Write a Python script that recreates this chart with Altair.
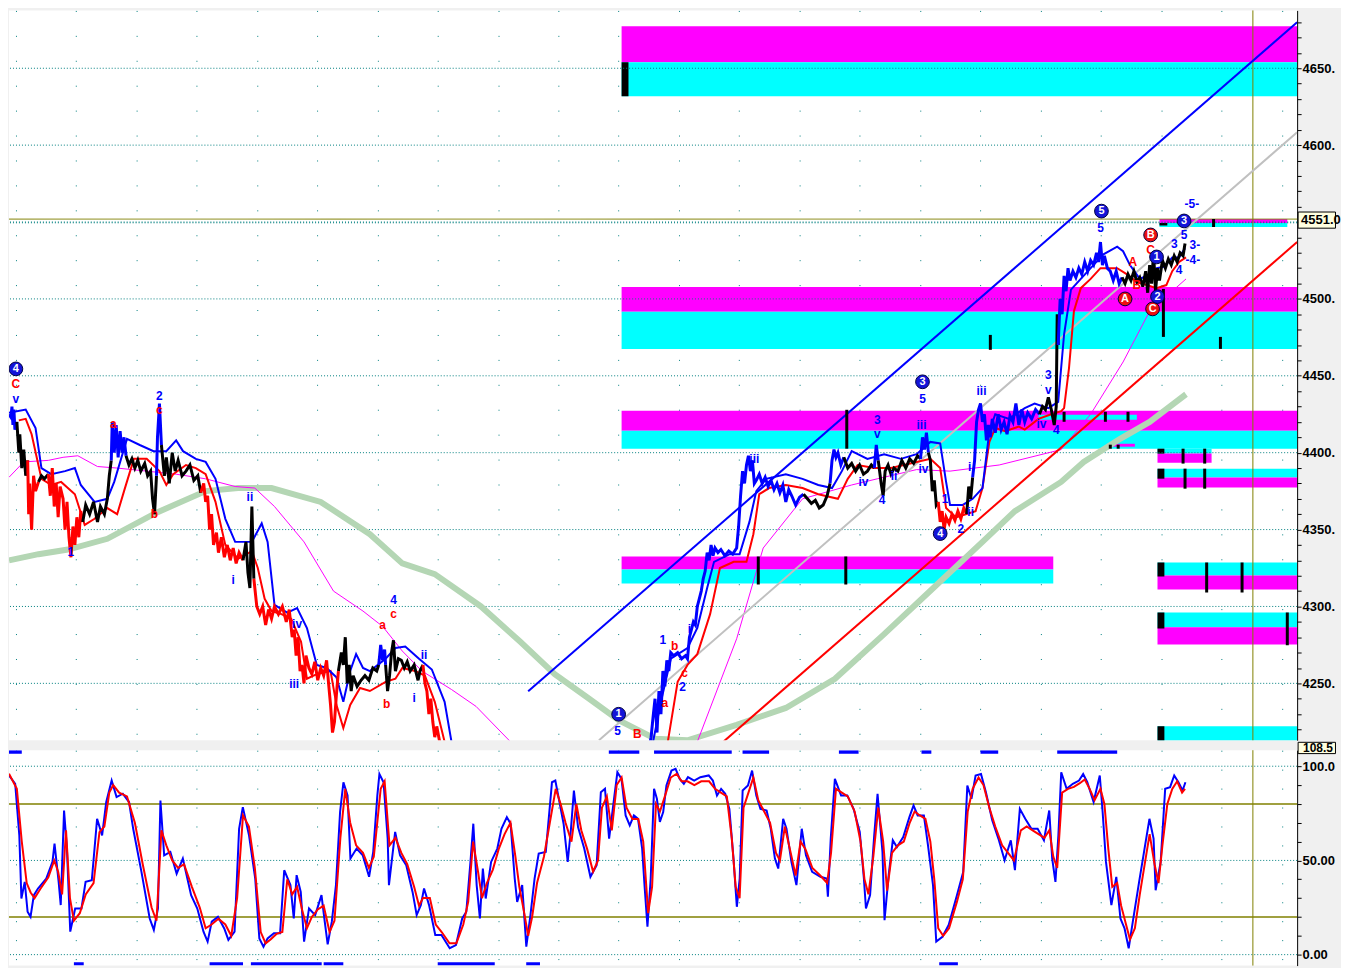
import altair as alt
import pandas as pd

# ---------------- data ----------------
X_DOMAIN = [0, 1310]
PRICE_DOMAIN = [4213.0, 4687.6]
OSC_DOMAIN = [-5.8, 108.5]

COLORS = {"blue": "#0000ff", "red": "#ff0000", "black": "#000000",
          "m": "#ff00ff", "c": "#00ffff", "k": "#000000"}

price_segments = [
    ("blue", [(0, 4425), (2, 4423), (3, 4430), (4, 4418), (5, 4428), (6, 4415), (8, 4420)]),
    ("black", [(8, 4420), (10, 4400), (11, 4412), (13, 4390), (15, 4402), (17, 4385), (19, 4395)]),
    ("red", [(19, 4395), (20, 4360), (21, 4380), (23, 4350), (25, 4385), (27, 4375), (30, 4381)]),
    ("black", [(30, 4381), (33, 4385), (36, 4383), (40, 4386)]),
    ("red", [(40, 4386), (42, 4372), (44, 4390), (46, 4365), (48, 4380), (50, 4358), (52, 4378), (55, 4370),
             (57, 4350), (59, 4368), (61, 4345), (63, 4332), (65, 4352), (67, 4340), (69, 4358), (71, 4345),
             (73, 4362), (75, 4355)]),
    ("black", [(75, 4355), (78, 4366), (82, 4360), (86, 4368), (90, 4355), (93, 4365), (97, 4360), (100, 4370),
               (102, 4385), (104, 4395)]),
    ("blue", [(104, 4395), (105, 4420), (107, 4400), (109, 4418), (111, 4397), (113, 4414), (115, 4400),
              (117, 4410), (119, 4398)]),
    ("black", [(119, 4398), (122, 4392), (125, 4396), (128, 4390), (131, 4395), (134, 4388), (138, 4393),
               (141, 4385), (144, 4388), (146, 4370), (148, 4360), (150, 4385)]),
    ("blue", [(150, 4385), (151, 4410), (153, 4432), (155, 4405)]),
    ("black", [(155, 4405), (158, 4385), (160, 4397), (163, 4380), (166, 4400), (169, 4388), (172, 4395),
               (176, 4385), (180, 4388), (184, 4392), (188, 4382), (192, 4385), (195, 4374)]),
    ("red", [(195, 4374), (198, 4380), (200, 4368), (202, 4372), (204, 4350), (206, 4360), (208, 4340),
             (211, 4348), (213, 4335), (216, 4345), (219, 4332), (222, 4340), (225, 4330), (228, 4338),
             (231, 4328), (234, 4335), (238, 4330)]),
    ("black", [(238, 4330), (241, 4342), (243, 4322), (245, 4312), (247, 4365), (249, 4318)]),
    ("red", [(249, 4318), (252, 4300), (255, 4295), (258, 4300), (261, 4288), (264, 4298), (267, 4292),
             (270, 4300), (274, 4295), (278, 4300), (282, 4290), (285, 4298), (288, 4280), (290, 4285),
             (292, 4268), (294, 4280), (296, 4258), (298, 4262), (300, 4250), (302, 4268), (305, 4260),
             (308, 4256), (311, 4264), (314, 4252), (317, 4260), (320, 4255), (323, 4265), (325, 4250),
             (327, 4236), (329, 4218), (331, 4225), (333, 4243), (335, 4258)]),
    ("black", [(335, 4258), (338, 4270), (340, 4262), (342, 4280), (344, 4250), (346, 4262), (348, 4245),
               (350, 4255), (354, 4248), (358, 4252), (362, 4255), (366, 4252), (370, 4260), (374, 4258),
               (376, 4262)]),
    ("blue", [(376, 4262), (378, 4275), (380, 4265), (382, 4272), (383, 4262)]),
    ("black", [(383, 4262), (385, 4245), (387, 4255), (389, 4270), (391, 4278), (393, 4258), (396, 4266),
               (399, 4265), (402, 4260), (405, 4264), (408, 4258), (412, 4262), (416, 4252), (418, 4258),
               (421, 4262)]),
    ("red", [(421, 4262), (423, 4250), (425, 4245), (427, 4230), (429, 4240), (431, 4225), (433, 4215),
             (435, 4222), (438, 4212), (442, 4208)]),
    ("blue", [(650, 4205), (653, 4215), (655, 4228), (657, 4240), (659, 4218), (661, 4245), (663, 4230),
              (665, 4258), (667, 4248), (669, 4265), (671, 4258), (673, 4270), (676, 4268), (680, 4270),
              (684, 4266), (688, 4268), (690, 4266), (692, 4280), (694, 4285), (696, 4290), (698, 4288),
              (700, 4300), (702, 4305), (704, 4310), (706, 4318), (708, 4323), (710, 4335), (712, 4330),
              (714, 4340), (716, 4333), (718, 4338), (721, 4335), (724, 4337), (728, 4333), (732, 4336),
              (736, 4334), (740, 4338), (742, 4352), (744, 4372), (746, 4388), (748, 4380), (750, 4392),
              (752, 4398), (754, 4388), (756, 4395), (758, 4380), (760, 4382), (763, 4386), (766, 4380),
              (769, 4384), (772, 4378), (775, 4382), (778, 4376), (781, 4380), (784, 4374), (787, 4379),
              (790, 4368), (793, 4376), (796, 4372), (800, 4366), (804, 4371), (808, 4373)]),
    ("black", [(808, 4373), (812, 4370), (816, 4367), (820, 4369), (824, 4364), (828, 4366), (832, 4372),
               (835, 4380)]),
    ("blue", [(835, 4380), (837, 4395), (839, 4402), (841, 4397), (843, 4400), (846, 4392), (849, 4397)]),
    ("black", [(849, 4397), (853, 4390), (857, 4393), (861, 4388), (865, 4392), (869, 4386), (873, 4388),
               (877, 4392), (880, 4390)]),
    ("blue", [(880, 4390), (882, 4405), (884, 4395)]),
    ("black", [(884, 4395), (887, 4380), (889, 4372), (891, 4388), (894, 4392), (897, 4386), (900, 4390),
               (904, 4388), (908, 4395), (912, 4390), (916, 4396), (920, 4393), (924, 4398), (927, 4396)]),
    ("blue", [(927, 4396), (929, 4410), (931, 4402), (933, 4413), (935, 4400)]),
    ("black", [(935, 4400), (937, 4395), (939, 4375), (941, 4382), (943, 4366), (945, 4368)]),
    ("red", [(945, 4368), (947, 4355), (949, 4362), (951, 4350), (953, 4358), (956, 4354), (959, 4360),
             (962, 4356), (965, 4362), (968, 4357), (971, 4364), (974, 4360)]),
    ("black", [(974, 4360), (976, 4378), (978, 4370), (980, 4384)]),
    ("blue", [(980, 4384), (982, 4395), (984, 4420), (986, 4428), (988, 4432), (990, 4420), (992, 4425),
              (994, 4408), (996, 4418), (998, 4410), (1000, 4422), (1003, 4413), (1006, 4425), (1009, 4415),
              (1012, 4420), (1015, 4412), (1018, 4424), (1021, 4420), (1024, 4432), (1027, 4418),
              (1030, 4428), (1033, 4420), (1036, 4426), (1040, 4422), (1044, 4428), (1048, 4425)]),
    ("black", [(1048, 4425), (1051, 4430), (1054, 4428), (1057, 4436), (1060, 4428), (1063, 4418),
               (1065, 4430), (1066, 4490), (1067, 4470)]),
    ("blue", [(1067, 4470), (1069, 4500), (1071, 4490), (1073, 4515), (1075, 4505), (1077, 4520),
              (1079, 4512), (1082, 4518), (1085, 4514), (1088, 4520), (1091, 4516), (1094, 4524),
              (1097, 4518), (1100, 4525), (1103, 4522), (1106, 4530), (1108, 4524), (1110, 4537),
              (1112, 4522), (1114, 4528), (1117, 4520), (1120, 4518), (1123, 4512), (1126, 4518),
              (1129, 4510), (1132, 4514)]),
    ("black", [(1132, 4514), (1135, 4510), (1138, 4516), (1141, 4512), (1144, 4518), (1147, 4511),
               (1150, 4514), (1153, 4508), (1156, 4518), (1158, 4504), (1160, 4522), (1162, 4510),
               (1164, 4530), (1166, 4505), (1168, 4520), (1170, 4512), (1173, 4525), (1176, 4520),
               (1179, 4526), (1182, 4522), (1185, 4528), (1188, 4524), (1191, 4530), (1194, 4528),
               (1196, 4536)]),
]

blue_ma_left = [(0, 4426), (17, 4428), (27, 4416), (33, 4390), (43, 4386), (57, 4388), (67, 4390), (73, 4379),
                (87, 4368), (100, 4370), (107, 4381), (120, 4409), (133, 4405), (147, 4401), (160, 4401),
                (170, 4408), (177, 4401), (190, 4396), (200, 4394), (210, 4383), (220, 4357), (230, 4342),
                (247, 4342), (257, 4354), (263, 4342), (270, 4301), (283, 4296), (293, 4299), (303, 4286),
                (313, 4262), (323, 4260), (333, 4254), (340, 4238), (347, 4258), (353, 4269), (360, 4260),
                (367, 4258), (383, 4266), (393, 4273), (403, 4274), (417, 4266), (430, 4259), (443, 4238),
                (450, 4212)]
blue_ma_mid = [(655, 4212), (663, 4238), (673, 4266), (690, 4273), (700, 4286), (710, 4312), (717, 4329),
               (733, 4334), (743, 4334), (753, 4355), (760, 4375), (770, 4383), (790, 4386), (807, 4383),
               (823, 4379), (837, 4377), (847, 4388), (857, 4401), (873, 4396), (890, 4399), (907, 4396),
               (923, 4399), (937, 4407), (947, 4406), (953, 4381), (957, 4366), (970, 4366), (980, 4370),
               (990, 4377), (997, 4414), (1003, 4425), (1017, 4422), (1033, 4429), (1043, 4432), (1057, 4429),
               (1067, 4433), (1073, 4477), (1080, 4506), (1090, 4513), (1100, 4520), (1113, 4529), (1127, 4534),
               (1133, 4531), (1140, 4522), (1150, 4513), (1160, 4516), (1167, 4520), (1175, 4521), (1183, 4527),
               (1190, 4527), (1196, 4533)]
red_ma_left = [(10, 4421), (17, 4422), (23, 4412), (33, 4383), (43, 4379), (53, 4381), (67, 4373), (77, 4353),
               (87, 4357), (100, 4364), (110, 4360), (117, 4375), (127, 4396), (140, 4396), (153, 4388),
               (160, 4379), (167, 4386), (180, 4392), (190, 4390), (200, 4386), (210, 4368), (220, 4340),
               (233, 4331), (247, 4336), (253, 4325), (260, 4305), (267, 4297), (277, 4295), (287, 4292),
               (297, 4277), (303, 4253), (313, 4256), (327, 4258), (333, 4236), (340, 4221), (347, 4236),
               (357, 4247), (367, 4245), (383, 4251), (393, 4253), (400, 4260), (413, 4258), (423, 4255),
               (433, 4238), (443, 4212)]
red_ma_mid = [(670, 4212), (680, 4251), (690, 4262), (700, 4269), (713, 4295), (723, 4325), (737, 4329),
              (750, 4329), (757, 4347), (763, 4373), (773, 4377), (790, 4379), (807, 4377), (823, 4373),
              (843, 4370), (853, 4383), (863, 4392), (880, 4390), (897, 4390), (910, 4392), (923, 4394),
              (937, 4396), (947, 4390), (953, 4364), (963, 4358), (973, 4360), (983, 4362), (990, 4377),
              (997, 4407), (1003, 4416), (1013, 4414), (1027, 4417), (1033, 4415), (1047, 4422), (1060, 4425),
              (1070, 4427), (1073, 4429), (1078, 4455), (1083, 4492), (1090, 4507), (1100, 4513), (1110, 4520),
              (1127, 4520), (1137, 4516), (1147, 4511), (1157, 4509), (1167, 4507), (1177, 4509), (1183, 4518),
              (1190, 4524), (1197, 4527)]
magenta_ma_left = [(0, 4384), (15, 4394), (40, 4395), (55, 4397), (70, 4398), (90, 4391), (110, 4390),
                   (140, 4388), (170, 4386), (200, 4383), (230, 4378), (250, 4377), (270, 4365), (300, 4342),
                   (330, 4310), (360, 4297), (380, 4287), (400, 4271), (420, 4258), (450, 4246), (475, 4235),
                   (510, 4212)]
magenta_ma_mid = [(700, 4212), (740, 4279), (767, 4338), (807, 4370), (857, 4379), (883, 4383), (923, 4389),
                  (957, 4388), (1007, 4392), (1070, 4402), (1100, 4425), (1133, 4459), (1160, 4492), (1197, 4513)]
green_ma = [(0, 4330), (30, 4334), (60, 4337), (100, 4344), (150, 4361), (200, 4375), (233, 4377), (267, 4377),
            (317, 4368), (367, 4347), (400, 4328), (433, 4321), (480, 4300), (520, 4277), (555, 4256),
            (590, 4240), (620, 4226), (657, 4214), (690, 4213), (740, 4223), (790, 4234), (840, 4253),
            (890, 4282), (940, 4312), (990, 4342), (1023, 4362), (1070, 4381), (1093, 4394), (1130, 4409),
            (1160, 4420), (1197, 4438)]
gray_trend = [(600, 4213.0), (1310, 4608.4)]
blue_channel = [(528, 4244.8), (1310, 4679.9)]
red_channel = [(727, 4212.3), (1310, 4537.0)]

# zones: x1, x2, top, bottom, colour
zones = [
    (623, 1310, 4677.3, 4653.9, "m"), (623, 1310, 4653.9, 4631.8, "c"),
    (1170, 1300, 4552.0, 4549.4, "m"), (1170, 1300, 4549.4, 4546.8, "c"),
    (623, 1310, 4507.8, 4491.6, "m"), (623, 1310, 4491.6, 4467.5, "c"),
    (623, 1310, 4427.3, 4414.3, "m"), (623, 1310, 4414.3, 4402.6, "c"),
    (623, 1062, 4332.5, 4324.1, "m"), (623, 1062, 4324.1, 4314.9, "c"),
    (1168, 1223, 4402.6, 4399.4, "c"), (1168, 1223, 4399.4, 4393.5, "m"),
    (1168, 1310, 4389.6, 4383.8, "c"), (1168, 1310, 4383.8, 4377.3, "m"),
    (1168, 1310, 4328.6, 4320.1, "c"), (1168, 1310, 4320.1, 4311.0, "m"),
    (1168, 1310, 4296.1, 4286.4, "c"), (1168, 1310, 4286.4, 4275.3, "m"),
    (1168, 1310, 4222.1, 4212.3, "c"),
    (1047, 1147, 4424.7, 4421.4, "c"), (1117, 1145, 4405.8, 4403.9, "m"),
    (623, 630, 4653.9, 4631.8, "k"), (1170, 1178, 4549.4, 4547.8, "k"),
    (1168, 1175, 4402.6, 4399.4, "k"), (1168, 1175, 4389.6, 4383.1, "k"),
    (1168, 1175, 4328.6, 4319.5, "k"), (1168, 1175, 4296.1, 4285.7, "k"),
    (1168, 1175, 4222.1, 4212.3, "k"),
]

# black vertical ticks: x, top, bottom
ticks = [(762, 4332.5, 4314.3), (851, 4332.5, 4314.3), (852, 4427.9, 4402.6), (998, 4476.6, 4466.9),
         (1073, 4426.6, 4420.1), (1115, 4426.6, 4420.1), (1138, 4426.6, 4420.1), (1120, 4405.2, 4402.6),
         (1128, 4405.2, 4402.6), (1174, 4506.5, 4475.3), (1232, 4475.3, 4467.5), (1225, 4552.0, 4546.8),
         (1194, 4402.6, 4392.9), (1216, 4402.6, 4392.9), (1196, 4389.6, 4376.6), (1216, 4389.6, 4376.6),
         (1218, 4328.6, 4309.1), (1254, 4328.6, 4309.1), (1300, 4296.1, 4274.7)]

grid_levels = [4250, 4300, 4350, 4400, 4450, 4500, 4550, 4600, 4650]

# wave labels: x, price, text, colour
wave_labels = [
    (7, 4444.8, "C", "red"), (7, 4435.1, "v", "blue"), (63, 4335.7, "1", "blue"), (106, 4418.8, "a", "red"),
    (153, 4437.0, "2", "blue"), (153, 4427.9, "c", "red"), (148, 4360.4, "b", "red"),
    (245, 4371.4, "ii", "blue"), (228, 4317.5, "i", "blue"), (293, 4288.9, "iv", "blue"),
    (290, 4249.4, "iii", "blue"), (391, 4304.5, "4", "blue"), (391, 4295.4, "c", "red"),
    (380, 4287.7, "a", "red"), (384, 4236.4, "b", "red"), (422, 4268.2, "ii", "blue"), (412, 4240.3, "i", "blue"),
    (619, 4218.8, "5", "blue"), (639, 4216.9, "B", "red"), (665, 4277.9, "1", "blue"), (677, 4274.0, "b", "red"),
    (692, 4285.1, "i", "blue"), (687, 4256.5, "c", "red"), (685, 4247.4, "2", "blue"), (667, 4237.0, "a", "red"),
    (758, 4396.1, "iii", "blue"), (883, 4421.4, "3", "blue"), (883, 4412.3, "v", "blue"),
    (869, 4381.2, "iv", "blue"), (900, 4385.1, "ii", "blue"), (888, 4369.5, "4", "blue"),
    (929, 4435.1, "5", "blue"), (928, 4418.2, "iii", "blue"), (930, 4389.6, "iv", "blue"),
    (952, 4370.1, "1", "blue"), (968, 4350.6, "2", "blue"), (978, 4361.7, "ii", "blue"),
    (977, 4390.9, "i", "blue"), (989, 4440.3, "iii", "blue"), (1057, 4450.6, "3", "blue"),
    (1057, 4440.9, "v", "blue"), (1050, 4418.8, "iv", "blue"), (1065, 4414.9, "4", "blue"),
    (1110, 4546.1, "5", "blue"), (1143, 4524.0, "A", "red"), (1147, 4509.1, "B", "red"),
    (1161, 4531.8, "C", "red"), (1185, 4535.7, "3", "blue"), (1195, 4541.6, "5", "blue"),
    (1190, 4518.8, "4", "blue"), (1203, 4561.7, "-5-", "blue"), (1206, 4535.1, "3-", "blue"),
    (1204, 4525.3, "-4-", "blue"),
]
# circled labels: x, price, text, colour
circled_labels = [
    (7, 4454.5, "4", "blue"), (620, 4229.9, "1", "blue"), (929, 4446.1, "3", "blue"), (947, 4347.4, "4", "blue"),
    (1111, 4557.1, "5", "blue"), (1135, 4500.0, "A", "red"), (1161, 4541.6, "B", "red"),
    (1163, 4493.5, "C", "red"), (1167, 4527.3, "1", "blue"), (1168, 4501.5, "2", "blue"),
    (1195, 4550.7, "3", "blue"),
]

# oscillator (%K blue, %D red)
osc_k = [
    (0, 95.1), (6.3, 90.7), (10.5, 63.3), (12.6, 29.8), (16.0, 38.6), (18.9, 22.8), (21.9, 20.1), (25.3, 31.6),
    (29.5, 35.1), (37.9, 40.4), (44.2, 49.2), (46.3, 58.9), (50.5, 38.6), (52.6, 26.3), (56.0, 76.5),
    (58.9, 56.3), (62.3, 12.2), (67.3, 24.5), (73.7, 24.5), (77.9, 38.6), (84.2, 39.5), (89.6, 72.1),
    (94.7, 63.3), (98.9, 81.0), (104.4, 92.4), (109.4, 83.6), (115.7, 85.4), (122.1, 81.0), (126.3, 66.8),
    (134.7, 43.9), (143.1, 19.2), (147.3, 13.1), (151.5, 24.5), (154.0, 81.8), (157.8, 52.7), (164.1, 54.5),
    (170.5, 43.0), (176.8, 51.0), (185.2, 31.6), (191.5, 24.5), (197.8, 12.2), (202.0, 6.9), (206.2, 17.5),
    (212.5, 20.1), (218.9, 13.9), (223.1, 7.8), (229.4, 12.2), (234.0, 66.8), (237.8, 78.3), (244.1, 63.3),
    (250.4, 40.4), (254.6, 8.6), (258.8, 4.2), (263.0, 8.6), (269.4, 11.3), (275.7, 11.3), (279.9, 44.8),
    (286.2, 36.9), (289.6, 19.2), (292.5, 42.2), (296.7, 33.3), (300.1, 6.9), (305.1, 24.5), (311.4, 21.0),
    (317.8, 31.6), (321.1, 17.5), (324.1, 5.5), (328.3, 17.5), (332.5, 36.9), (336.7, 75.7), (340.1, 91.5),
    (344.3, 84.5), (347.2, 51.0), (353.5, 56.3), (359.8, 52.7), (366.2, 41.3), (370.4, 54.5), (374.6, 84.5),
    (376.7, 95.9), (380.9, 91.5), (385.1, 61.6), (386.4, 36.9), (392.7, 65.1), (397.7, 52.7), (404.0, 47.4),
    (410.4, 33.3), (414.6, 21.0), (418.8, 26.3), (422.1, 35.1), (427.2, 26.3), (433.5, 10.4), (439.8, 10.4),
    (448.2, 3.4), (454.5, 5.1), (460.9, 19.2), (465.1, 22.8), (469.3, 49.2), (472.2, 69.5), (475.6, 36.9),
    (478.9, 19.2), (481.9, 45.7), (484.8, 29.8), (490.3, 49.2), (496.6, 56.3), (500.8, 66.8), (506.3, 73.0),
    (510.1, 69.5), (514.3, 40.4), (516.8, 28.0), (521.9, 36.9), (526.1, 4.2), (530.3, 21.0), (534.5, 40.4),
    (538.7, 53.6), (545.9, 54.5), (552.2, 91.5), (555.6, 92.4), (559.8, 81.0), (564.0, 69.5), (568.2, 49.2),
    (571.5, 66.8), (574.5, 87.1), (578.7, 67.7), (585.0, 56.3), (591.3, 41.3), (597.6, 47.4), (601.9, 86.2),
    (606.1, 88.0), (610.3, 61.6), (615.3, 82.7), (618.7, 96.8), (622.9, 93.3), (627.1, 73.9), (631.3, 68.6),
    (635.5, 73.9), (639.7, 72.1), (643.9, 56.3), (646.3, 36.9), (649.3, 14.8), (652.6, 40.4), (656.0, 88.0),
    (658.9, 82.7), (661.9, 70.4), (665.3, 75.7), (668.6, 89.8), (673.7, 97.7), (677.9, 98.6), (682.1, 93.3),
    (686.3, 90.7), (690.5, 94.2), (696.8, 92.4), (703.1, 94.2), (711.6, 95.1), (715.8, 92.4), (720.0, 84.5),
    (724.2, 88.0), (728.4, 85.4), (732.6, 77.4), (736.8, 51.0), (740.2, 25.4), (743.1, 40.4), (746.1, 87.1),
    (751.5, 89.8), (755.7, 97.7), (760.0, 84.5), (764.2, 77.4), (770.5, 76.5), (774.7, 66.8), (778.9, 51.0),
    (782.3, 45.7), (787.3, 72.1), (790.7, 66.8), (795.7, 49.2), (800.8, 36.9), (806.2, 66.8), (810.5, 52.7),
    (816.8, 43.9), (825.2, 41.3), (831.5, 40.4), (832.8, 30.7), (835.7, 61.6), (839.9, 93.3), (846.2, 84.5),
    (852.5, 84.5), (858.9, 77.4), (865.2, 65.1), (869.4, 40.4), (871.5, 24.5), (875.7, 31.6), (879.9, 63.3),
    (883.3, 85.4), (888.3, 54.5), (890.4, 18.3), (894.6, 42.2), (898.8, 60.7), (903.0, 57.1), (909.4, 62.4),
    (915.7, 73.0), (919.9, 79.2), (924.1, 73.9), (930.4, 73.9), (934.6, 58.0), (939.7, 36.9), (943.0, 6.9),
    (949.3, 9.5), (955.6, 15.7), (964.1, 31.6), (970.4, 43.9), (974.6, 89.8), (978.8, 82.7), (983.0, 95.1),
    (988.5, 95.9), (993.5, 86.2), (999.9, 71.3), (1006.2, 61.6), (1012.5, 50.1), (1018.8, 60.7),
    (1023.0, 44.8), (1028.0, 77.4), (1033.5, 72.1), (1039.8, 66.8), (1046.1, 66.8), (1052.5, 60.7),
    (1057.9, 76.5), (1060.9, 51.0), (1064.2, 38.6), (1067.2, 63.3), (1070.1, 96.8), (1075.6, 88.0),
    (1081.9, 90.7), (1088.2, 92.4), (1092.4, 95.9), (1096.6, 91.5), (1103.0, 81.0), (1109.3, 95.1),
    (1112.2, 75.7), (1115.6, 49.2), (1121.1, 26.3), (1126.1, 41.3), (1130.3, 19.2), (1134.5, 13.9),
    (1138.7, 3.4), (1142.9, 17.5), (1149.3, 38.6), (1154.3, 54.5), (1159.8, 72.1), (1164.0, 61.6),
    (1166.1, 34.2), (1171.2, 49.2), (1175.8, 88.0), (1180.8, 88.9), (1185.0, 95.1), (1189.3, 91.5),
    (1193.5, 87.1), (1196.4, 91.5),
]
osc_d = [
    (0, 96), (8, 88), (13, 60), (18, 38), (22, 33), (26, 30), (32, 35), (40, 41), (46, 50), (50, 44), (54, 32),
    (58, 66), (62, 30), (66, 18), (72, 22), (78, 32), (86, 38), (92, 65), (97, 68), (102, 86), (106, 90),
    (112, 86), (120, 84), (128, 70), (136, 48), (145, 25), (150, 18), (155, 66), (160, 58), (166, 50),
    (172, 46), (178, 48), (186, 36), (194, 25), (200, 14), (206, 16), (213, 19), (220, 16), (226, 10),
    (232, 30), (238, 74), (244, 68), (250, 46), (256, 12), (261, 6), (266, 8), (272, 11), (278, 12), (283, 40),
    (288, 32), (293, 36), (298, 24), (303, 14), (308, 20), (314, 24), (320, 26), (326, 12), (331, 18),
    (337, 62), (342, 88), (347, 70), (353, 58), (360, 54), (366, 46), (371, 52), (378, 88), (382, 92),
    (387, 58), (393, 62), (399, 54), (405, 48), (412, 36), (417, 26), (421, 30), (428, 30), (434, 16),
    (440, 12), (448, 6), (455, 6), (462, 16), (467, 28), (472, 60), (477, 44), (481, 30), (486, 38), (492, 45),
    (498, 56), (504, 64), (510, 70), (515, 52), (519, 36), (524, 22), (528, 10), (532, 20), (537, 38),
    (544, 52), (550, 70), (556, 88), (561, 80), (566, 70), (572, 60), (577, 80), (582, 66), (588, 56),
    (594, 44), (599, 50), (603, 78), (608, 84), (613, 66), (618, 90), (623, 94), (628, 78), (634, 72),
    (640, 72), (645, 60), (650, 22), (654, 36), (658, 80), (662, 76), (667, 84), (673, 94), (679, 96),
    (684, 92), (690, 92), (697, 90), (704, 92), (712, 92), (718, 88), (724, 86), (730, 84), (735, 62),
    (739, 36), (743, 30), (747, 78), (752, 86), (757, 94), (762, 82), (768, 76), (774, 70), (780, 54),
    (784, 50), (789, 68), (795, 54), (800, 42), (805, 60), (810, 56), (817, 46), (825, 42), (832, 38),
    (836, 54), (841, 88), (847, 86), (853, 84), (860, 76), (866, 60), (870, 40), (874, 32), (879, 52),
    (884, 78), (889, 60), (893, 34), (898, 54), (904, 58), (910, 60), (916, 70), (921, 76), (926, 74),
    (932, 72), (937, 60), (941, 40), (945, 14), (950, 10), (956, 14), (964, 28), (970, 40), (975, 76),
    (980, 88), (986, 94), (991, 90), (997, 78), (1003, 68), (1010, 58), (1016, 54), (1022, 50), (1029, 66),
    (1035, 68), (1041, 66), (1047, 64), (1053, 62), (1058, 66), (1062, 52), (1066, 46), (1071, 86), (1077, 88),
    (1083, 89), (1089, 91), (1094, 93), (1099, 88), (1104, 82), (1110, 88), (1114, 80), (1118, 56), (1122, 36),
    (1127, 38), (1131, 26), (1136, 16), (1140, 8), (1145, 14), (1150, 32), (1155, 48), (1160, 64), (1165, 48),
    (1169, 38), (1173, 58), (1178, 80), (1183, 88), (1188, 92), (1193, 86), (1196, 88),
]
osc_top_bars = [(0, 13), (610, 641), (656, 735), (746, 773), (844, 864), (928, 938), (988, 1006), (1066, 1127)]
osc_bottom_bars = [(66, 76), (204, 238), (246, 318), (320, 340), (436, 494), (526, 540), (946, 965)]
osc_levels = [0, 50, 100]
osc_bands = [20, 80]
marker_x = 1265
last_price = 4551.0
osc_top_value = 108.5

# ---------------- chart ----------------
FONT = "Liberation Sans"
W = 1292
xs = alt.Scale(domain=X_DOMAIN, nice=False, zero=False)
ys = alt.Scale(domain=PRICE_DOMAIN, nice=False, zero=False)
os_ = alt.Scale(domain=OSC_DOMAIN, nice=False, zero=False)

GRID_X = [round(7 + 61.3 * k, 1) for k in range(22)]


def xax(dash):
    return alt.Axis(orient="bottom", values=GRID_X, labels=False, ticks=False, domain=False, grid=True,
                    gridColor="#008080", gridDash=dash, gridWidth=1, title=None, minExtent=0, maxExtent=0)


XAX_T = xax([1, 24])
XAX_B = xax([1, 18])
YAX_T = alt.Axis(orient="right", values=list(range(4220, 4681, 10)), grid=False, tickSize=4, tickColor="black",
                 domainColor="black", labelColor="black", labelFont=FONT, labelFontSize=13,
                 labelFontWeight="bold", labelPadding=1, labelOverlap=False, title=None,
                 labelExpr="datum.value % 50 == 0 && datum.value != 4550 ? format(datum.value, 'd') + '.' : ''")
YAX_B = alt.Axis(orient="right", values=list(range(0, 101, 10)), grid=False, tickSize=4, tickColor="black",
                 domainColor="black", labelColor="black", labelFont=FONT, labelFontSize=13,
                 labelFontWeight="bold", labelPadding=1, labelOverlap=False, title=None,
                 labelExpr="datum.value == 100 ? '100.0' : datum.value == 50 ? '50.00' : datum.value == 0 ? '0.00' : ''")


def X(f="x"):
    return alt.X(f + ":Q", scale=xs, axis=XAX_T)


def Y(f="y"):
    return alt.Y(f + ":Q", scale=ys, axis=YAX_T)


def pts_df(pts):
    return pd.DataFrame([{"x": a, "y": b, "i": k} for k, (a, b) in enumerate(pts)])


def line_layer(pts, color, width):
    return alt.Chart(pts_df(pts)).mark_line(color=color, strokeWidth=width, clip=True).encode(
        x=X(), y=Y(), order="i:Q")


zone_df = pd.DataFrame([{"x": a, "x2": b, "y": t, "y2": u, "col": COLORS[c]} for a, b, t, u, c in zones])
zones_layer = alt.Chart(zone_df).mark_rect(clip=True).encode(
    x=X(), x2="x2:Q", y=Y(), y2="y2:Q", color=alt.Color("col:N", scale=None))

hgrid = alt.Chart(pd.DataFrame({"y": grid_levels})).mark_rule(
    color="#008080", strokeDash=[1, 2], strokeWidth=1).encode(y=Y())
lp_df = pd.DataFrame({"y": [last_price + 0.9, last_price - 1.5], "col": ["#808000", "#008080"],
                      "d": ["a", "b"]})
last_lines = alt.Chart(lp_df).mark_rule(strokeWidth=1).encode(
    y=Y(), color=alt.Color("col:N", scale=None), strokeDash=alt.StrokeDash("d:N", scale=alt.Scale(
        domain=["a", "b"], range=[[1, 0], [1, 2]]), legend=None))
vline_t = alt.Chart(pd.DataFrame({"x": [marker_x]})).mark_rule(color="#808000", strokeWidth=1).encode(x=X())

price_rows = []
k = 0
for sid, (col, pts) in enumerate(price_segments):
    for a, b in pts:
        price_rows.append({"x": a, "y": b, "seg": sid, "col": COLORS[col], "i": k})
        k += 1
price_layer = alt.Chart(pd.DataFrame(price_rows)).mark_line(strokeWidth=3, clip=True).encode(
    x=X(), y=Y(), detail="seg:N", color=alt.Color("col:N", scale=None), order="i:Q")

tick_df = pd.DataFrame([{"x": a, "y": t, "y2": u} for a, t, u in ticks])
tick_layer = alt.Chart(tick_df).mark_rule(color="black", strokeWidth=3, clip=True).encode(
    x=X(), y=Y(), y2="y2:Q")

lab_df = pd.DataFrame([{"x": a, "y": b, "t": t, "col": COLORS[c]} for a, b, t, c in wave_labels])
lab_layer = alt.Chart(lab_df).mark_text(font=FONT, fontSize=12, fontWeight="bold", align="center",
                                        baseline="middle", clip=True).encode(
    x=X(), y=Y(), text="t:N", color=alt.Color("col:N", scale=None))

circ_df = pd.DataFrame([{"x": a, "y": b, "t": t, "col": "#1414d8" if c == "blue" else "#ee1010"}
                        for a, b, t, c in circled_labels])
circ_layer = alt.Chart(circ_df).mark_point(shape="circle", filled=True, size=190, opacity=1,
                                           stroke="#000040", strokeWidth=1, clip=True).encode(
    x=X(), y=Y(), fill=alt.Fill("col:N", scale=None))
circ_text = alt.Chart(circ_df).mark_text(font=FONT, fontSize=11, fontWeight="bold", color="white",
                                         align="center", baseline="middle", clip=True).encode(
    x=X(), y=Y(), text="t:N")

box_df = pd.DataFrame([{"x": 1311, "x2": 1349, "y": last_price + 5.5, "y2": last_price - 5.0,
                        "t": "4551.0", "xt": 1314, "yt": last_price}])
box_layer = alt.Chart(box_df).mark_rect(fill="#ffffe0", stroke="black", strokeWidth=1).encode(
    x=X(), x2="x2:Q", y=Y(), y2="y2:Q")
box_text = alt.Chart(box_df).mark_text(font=FONT, fontSize=13, fontWeight="bold", color="black",
                                       align="left", baseline="middle").encode(
    x=X("xt"), y=Y("yt"), text="t:N")

top = alt.layer(
    zones_layer, hgrid, last_lines, vline_t,
    line_layer(green_ma, "#b4d6b4", 6),
    line_layer(magenta_ma_left, "#ff00ff", 1), line_layer(magenta_ma_mid, "#ff00ff", 1),
    line_layer(gray_trend, "#c0c0c0", 2),
    line_layer(blue_channel, "#0000ff", 2), line_layer(red_channel, "#ff0000", 2),
    line_layer(red_ma_left, "#ff0000", 2), line_layer(red_ma_mid, "#ff0000", 2),
    line_layer(blue_ma_left, "#0000ff", 2), line_layer(blue_ma_mid, "#0000ff", 2),
    price_layer, tick_layer, lab_layer, circ_layer, circ_text, box_layer, box_text,
).properties(width=W, height=732)


# ---- bottom panel ----
def XB(f="x"):
    return alt.X(f + ":Q", scale=xs, axis=XAX_B)


def YB(f="y"):
    return alt.Y(f + ":Q", scale=os_, axis=YAX_B)


ogrid = alt.Chart(pd.DataFrame({"y": osc_levels})).mark_rule(
    color="#008080", strokeDash=[1, 2], strokeWidth=1).encode(y=YB())
oband = alt.Chart(pd.DataFrame({"y": osc_bands})).mark_rule(color="#808000", strokeWidth=1.5).encode(y=YB())
vline_b = alt.Chart(pd.DataFrame({"x": [marker_x]})).mark_rule(color="#808000", strokeWidth=1).encode(x=XB())
bars_df = pd.DataFrame([{"x": a, "x2": b, "y": 106.6, "y2": 108.5} for a, b in osc_top_bars] +
                       [{"x": a, "x2": b, "y": -5.8, "y2": -4.0} for a, b in osc_bottom_bars])
bars = alt.Chart(bars_df).mark_rect(color="#0000ff", clip=True).encode(x=XB(), x2="x2:Q", y=YB(), y2="y2:Q")
k_line = alt.Chart(pts_df(osc_k)).mark_line(color="#0000ff", strokeWidth=2, clip=True).encode(
    x=XB(), y=YB(), order="i:Q")
d_line = alt.Chart(pts_df(osc_d)).mark_line(color="#ff0000", strokeWidth=2, clip=True).encode(
    x=XB(), y=YB(), order="i:Q")
# value box sits partly above the panel, in the gap between the two panels
obox_df = pd.DataFrame([{"x": 1311, "x2": 1349, "y": osc_top_value + 4.2, "y2": osc_top_value - 1.8,
                         "t": "108.5", "xt": 1316, "yt": osc_top_value + 1.2}])
obox = alt.Chart(obox_df).mark_rect(fill="#ffffe0", stroke="black", strokeWidth=1).encode(
    x=XB(), x2="x2:Q", y=YB(), y2="y2:Q")
obox_text = alt.Chart(obox_df).mark_text(font=FONT, fontSize=12, fontWeight="bold", color="black",
                                         align="left", baseline="middle").encode(x=XB("xt"), y=YB("yt"), text="t:N")

bottom = alt.layer(ogrid, oband, vline_b, bars, k_line, d_line, obox, obox_text).properties(width=W, height=216)

chart = alt.vconcat(top, bottom, spacing=0).properties(
    padding={"left": 0, "top": 0, "right": 0, "bottom": 0}
).configure(background="#f0f0f0").configure_view(fill="white", stroke=None)

chart.save("out.html", embed_options={"renderer": "svg", "actions": False})
